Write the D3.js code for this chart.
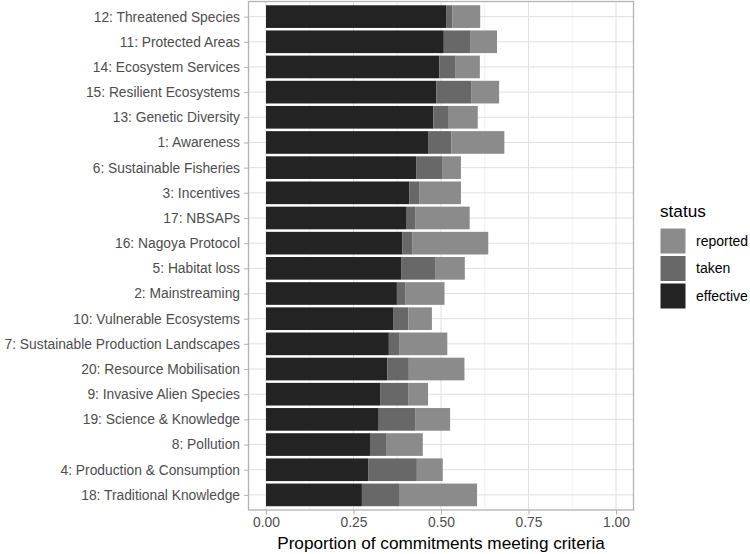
<!DOCTYPE html>
<html><head><meta charset="utf-8">
<script src="https://cdn.jsdelivr.net/npm/d3@7"></script>
<style>body{margin:0;background:#fff;} text{font-family:"Liberation Sans",Arial,sans-serif;}</style>
</head><body><svg id="c" width="750" height="554"></svg>
<script>
const categories = ["12: Threatened Species","11: Protected Areas","14: Ecosystem Services","15: Resilient Ecosystems","13: Genetic Diversity","1: Awareness","6: Sustainable Fisheries","3: Incentives","17: NBSAPs","16: Nagoya Protocol","5: Habitat loss","2: Mainstreaming","10: Vulnerable Ecosystems","7: Sustainable Production Landscapes","20: Resource Mobilisation","9: Invasive Alien Species","19: Science & Knowledge","8: Pollution","4: Production & Consumption","18: Traditional Knowledge"];
const effective = [0.516,0.508,0.495,0.487,0.478,0.463,0.429,0.410,0.400,0.390,0.386,0.374,0.363,0.351,0.347,0.326,0.322,0.299,0.293,0.274];
const taken     = [0.017,0.075,0.047,0.099,0.042,0.067,0.074,0.029,0.026,0.029,0.097,0.025,0.044,0.031,0.061,0.080,0.104,0.044,0.138,0.106];
const reported  = [0.079,0.077,0.069,0.080,0.085,0.151,0.054,0.118,0.156,0.216,0.085,0.111,0.067,0.136,0.159,0.057,0.100,0.105,0.074,0.223];
const statuses = ["effective","taken","reported"];
const colors = {effective:"#232323", taken:"#686868", reported:"#8b8b8b"};
const xTicks = [0,0.25,0.5,0.75,1];
const xMinor = [0.125,0.375,0.625,0.875];

const svg = d3.select("#c");
const P = {l:248.5, r:633.5, t:1.5, b:510};
const x = d3.scaleLinear().domain([-0.05,1.05]).range([P.l,P.r]);
const y = d3.scalePoint().domain(categories).range([P.t,P.b]).padding(0.6);
const bh = y.step()*0.9;

// grid
const g = svg.append("g");
g.selectAll(".mn").data(xMinor).join("line").attr("x1",d=>x(d)).attr("x2",d=>x(d)).attr("y1",P.t).attr("y2",P.b).attr("stroke","#ededed").attr("stroke-width",0.7);
g.selectAll(".mj").data(xTicks).join("line").attr("x1",d=>x(d)).attr("x2",d=>x(d)).attr("y1",P.t).attr("y2",P.b).attr("stroke","#e0e0e0").attr("stroke-width",1);
g.selectAll(".hy").data(categories).join("line").attr("x1",P.l).attr("x2",P.r).attr("y1",d=>y(d)).attr("y2",d=>y(d)).attr("stroke","#e0e0e0").attr("stroke-width",1);

// stacked data
const rows = categories.map((c,i)=>({cat:c, effective:effective[i], taken:taken[i], reported:reported[i]}));
const stack = d3.stack().keys(statuses)(rows);
svg.append("g").selectAll("g").data(stack).join("g").attr("fill",s=>colors[s.key])
  .selectAll("rect").data(s=>s).join("rect")
  .attr("x",d=>x(d[0])).attr("width",d=>x(d[1])-x(d[0]))
  .attr("y",d=>y(d.data.cat)-bh/2).attr("height",bh);

// border
svg.append("rect").attr("x",P.l).attr("y",P.t).attr("width",P.r-P.l).attr("height",P.b-P.t).attr("fill","none").attr("stroke","#b3b3b3").attr("stroke-width",1.3);

// y axis
const ya = svg.append("g").attr("transform",`translate(${P.l},0)`).call(d3.axisLeft(y).tickSize(4.5).tickPadding(4));
ya.select(".domain").remove();
ya.selectAll("line").attr("stroke","#b3b3b3");
ya.selectAll("text").attr("fill","#4d4d4d").style("font-size","13.8px").style("font-family","Liberation Sans, Arial, sans-serif");

// x axis
const xa = svg.append("g").attr("transform",`translate(0,${P.b})`).call(d3.axisBottom(x).tickValues(xTicks).tickFormat(d3.format(".2f")).tickSize(4.5).tickPadding(3));
xa.select(".domain").remove();
xa.selectAll("line").attr("stroke","#b3b3b3");
xa.selectAll("text").attr("fill","#4d4d4d").style("font-size","13.8px").style("font-family","Liberation Sans, Arial, sans-serif");

svg.append("text").attr("x",(x(0)+x(1))/2).attr("y",548.5).attr("text-anchor","middle").style("font-size","17.2px").attr("fill","#000").text("Proportion of commitments meeting criteria");

// legend
const lg = svg.append("g");
lg.append("text").attr("x",660).attr("y",217).style("font-size","17.2px").text("status");
const legOrder = ["reported","taken","effective"];
legOrder.forEach((k,i)=>{
  const yy = 228.5 + i*27.5;
  lg.append("rect").attr("x",660.5).attr("y",yy).attr("width",25).attr("height",25).attr("fill",colors[k]);
  lg.append("text").attr("x",696).attr("y",yy+12.5).attr("dy","0.35em").style("font-size","14px").text(k);
});
</script></body></html>
